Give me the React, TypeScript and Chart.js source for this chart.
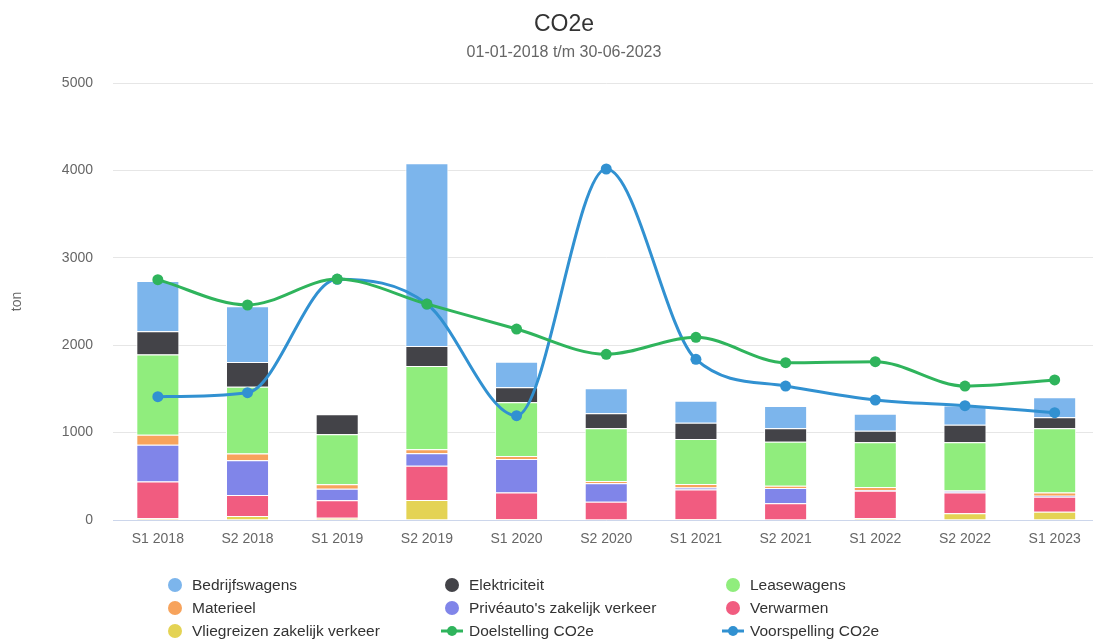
import React, { useEffect, useRef } from 'react';
import { Chart, registerables } from 'chart.js';

Chart.register(...registerables);

const FONT = '"Liberation Sans", Arial, Helvetica, sans-serif';

const titleText = 'CO2e';
const subtitleText = '01-01-2018 t/m 30-06-2023';
const yAxisTitle = 'ton';

const categories = [
  'S1 2018', 'S2 2018', 'S1 2019', 'S2 2019', 'S1 2020', 'S2 2020',
  'S1 2021', 'S2 2021', 'S1 2022', 'S2 2022', 'S1 2023',
];

// stacked bar series (values in ton)
const vliegreizen = [20, 45, 25, 229, 10, 0, 10, 0, 19, 76, 95];
const verwarmen = [420, 240, 200, 392, 306, 210, 340, 191, 317, 240, 172];
const priveauto = [420, 400, 133, 142, 382, 210, 23, 175, 4, 12, 11];
const materieel = [115, 77, 50, 46, 34, 26, 38, 27, 38, 10, 38];
const leasewagens = [920, 762, 572, 953, 614, 603, 515, 503, 511, 553, 733];
const elektriciteit = [265, 283, 229, 229, 172, 171, 186, 153, 133, 199, 126];
const bedrijfswagens = [575, 640, 0, 2090, 294, 287, 252, 255, 195, 221, 229];

// line series
const doelstelling = [2750, 2460, 2757, 2471, 2185, 1896, 2090, 1800, 1812, 1533, 1602];
const voorspelling = [1411, 1457, 2754, 2471, 1194, 4016, 1838, 1533, 1373, 1308, 1228];

const yTicks = [0, 1000, 2000, 3000, 4000, 5000];

const barSeries = [
  { label: 'Vliegreizen zakelijk verkeer', data: vliegreizen, color: '#e4d354' },
  { label: 'Verwarmen', data: verwarmen, color: '#f15c80' },
  { label: "Privéauto's zakelijk verkeer", data: priveauto, color: '#8085e9' },
  { label: 'Materieel', data: materieel, color: '#f7a35c' },
  { label: 'Leasewagens', data: leasewagens, color: '#90ed7d' },
  { label: 'Elektriciteit', data: elektriciteit, color: '#434348' },
  { label: 'Bedrijfswagens', data: bedrijfswagens, color: '#7cb5ec' },
];

const lineSeries = [
  { label: 'Doelstelling CO2e', data: doelstelling, color: '#2fb45c', stack: 'doel' },
  { label: 'Voorspelling CO2e', data: voorspelling, color: '#3191d1', stack: 'voor' },
];

const legendOrder = [
  'Bedrijfswagens', 'Elektriciteit', 'Leasewagens',
  'Materieel', "Privéauto's zakelijk verkeer", 'Verwarmen',
  'Vliegreizen zakelijk verkeer', 'Doelstelling CO2e', 'Voorspelling CO2e',
];

const headerPlugin = {
  id: 'headerText',
  afterDraw(chart: any) {
    const ctx = chart.ctx;
    ctx.save();
    ctx.textAlign = 'center';
    ctx.textBaseline = 'middle';
    ctx.fillStyle = '#333333';
    ctx.font = `23px ${FONT}`;
    ctx.fillText(titleText, 564, 25);
    ctx.fillStyle = '#666666';
    ctx.font = `16px ${FONT}`;
    ctx.fillText(subtitleText, 564, 53);
    ctx.restore();
  },
};

const legendPlugin = {
  id: 'gridLegend',
  afterDraw(chart: any) {
    const ctx = chart.ctx;
    const colX = [175, 452, 733];
    const rowY = [585, 608, 631];
    ctx.save();
    ctx.font = `15.5px ${FONT}`;
    ctx.textBaseline = 'middle';
    ctx.textAlign = 'left';
    legendOrder.forEach((name, i) => {
      const ds = chart.data.datasets.find((d: any) => d.label === name);
      if (!ds) return;
      const cx = colX[i % 3];
      const cy = rowY[Math.floor(i / 3)];
      const color = ds.type === 'line' ? ds.borderColor : ds.backgroundColor;
      if (ds.type === 'line') {
        ctx.strokeStyle = color;
        ctx.lineWidth = 3;
        ctx.beginPath();
        ctx.moveTo(cx - 11, cy);
        ctx.lineTo(cx + 11, cy);
        ctx.stroke();
        ctx.fillStyle = color;
        ctx.beginPath();
        ctx.arc(cx, cy, 5, 0, Math.PI * 2);
        ctx.fill();
      } else {
        ctx.fillStyle = color;
        ctx.beginPath();
        ctx.arc(cx, cy, 7, 0, Math.PI * 2);
        ctx.fill();
      }
      ctx.fillStyle = '#333333';
      ctx.fillText(name, cx + 17, cy + 1);
    });
    ctx.restore();
  },
};

export default function App() {
  const canvasRef = useRef<HTMLCanvasElement | null>(null);

  useEffect(() => {
    document.body.style.margin = '0';
    document.body.style.overflow = 'hidden';
    const canvas = canvasRef.current;
    if (!canvas) return;

    const datasets: any[] = [
      ...lineSeries.map((s) => ({
        type: 'line',
        label: s.label,
        data: s.data,
        borderColor: s.color,
        backgroundColor: s.color,
        borderWidth: 3,
        pointRadius: 5.5,
        pointBorderWidth: 0,
        pointBackgroundColor: s.color,
        cubicInterpolationMode: 'monotone',
        fill: false,
        stack: s.stack,
        order: 1,
      })),
      ...barSeries.map((s) => ({
        type: 'bar',
        label: s.label,
        data: s.data,
        backgroundColor: s.color,
        borderColor: '#ffffff',
        borderWidth: 1,
        categoryPercentage: 0.6,
        barPercentage: 0.8,
        stack: 'bars',
        order: 2,
      })),
    ];

    const chart = new Chart(canvas, {
      type: 'bar',
      data: { labels: categories, datasets },
      plugins: [headerPlugin, legendPlugin],
      options: {
        responsive: false,
        animation: false,
        devicePixelRatio: 1,
        layout: { padding: { top: 83, bottom: 80, left: 0, right: 0 } },
        plugins: {
          legend: { display: false },
          title: { display: false },
          tooltip: { enabled: false },
        },
        scales: {
          x: {
            stacked: true,
            grid: { display: false, drawTicks: false },
            border: { display: true, color: '#ccd6eb', width: 1 },
            ticks: { color: '#666666', font: { family: FONT, size: 14 }, padding: 11, maxRotation: 0, autoSkip: false },
            afterFit: (scale: any) => { scale.height = 40; },
          },
          y: {
            stacked: true,
            min: 0,
            max: 5000,
            afterBuildTicks: (scale: any) => { scale.ticks = yTicks.map((v) => ({ value: v })); },
            grid: { color: '#e6e6e6', lineWidth: 1, drawTicks: false },
            border: { display: false },
            ticks: {
              color: '#666666',
              font: { family: FONT, size: 14 },
              padding: 20,
              callback: (value: any) => String(value),
            },
            title: {
              display: true,
              text: yAxisTitle,
              color: '#666666',
              font: { family: FONT, size: 14 },
              padding: { top: 9, bottom: 0 },
            },
            afterFit: (scale: any) => { scale.width = 113; },
          },
        },
      } as any,
    });

    return () => chart.destroy();
  }, []);

  return (
    <div style={{ width: 1093, height: 640, overflow: 'hidden', position: 'relative', background: '#ffffff' }}>
      <canvas ref={canvasRef} width={1105} height={640} style={{ display: 'block' }} />
    </div>
  );
}
